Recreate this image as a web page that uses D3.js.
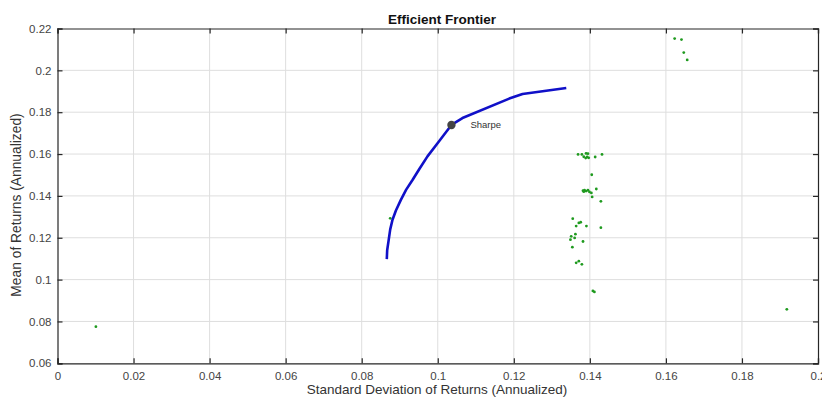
<!DOCTYPE html>
<html>
<head>
<meta charset="utf-8">
<script src="https://cdn.jsdelivr.net/npm/d3@7"></script>
<style>
  body { margin: 0; background: #fff; }
  svg { display: block; font-family: "Liberation Sans", Arial, sans-serif; }
</style>
</head>
<body>
<div class="chart"></div>
<script>
// frontier (risk, return)
const frontierRisk = [0.0866, 0.0867, 0.0871, 0.0875, 0.0881, 0.0890, 0.0903, 0.0917, 0.0934, 0.0952, 0.0973, 0.1003, 0.1036, 0.1065, 0.1188, 0.1223, 0.1338];
const frontierRet = [0.1098, 0.1140, 0.1190, 0.1240, 0.1286, 0.1330, 0.1381, 0.1430, 0.1477, 0.1530, 0.1589, 0.1660, 0.1739, 0.1772, 0.1865, 0.1887, 0.1916];

const sharpeRisk = 0.1036;
const sharpeRet = 0.1739;

// asset scatter
const assetRisk = [
  0.1369, 0.1379, 0.1390, 0.1395, 0.1384, 0.1389, 0.1393, 0.1397, 0.1414, 0.1432, 0.1405,
  0.1382, 0.1386, 0.1390, 0.1395, 0.1399, 0.1404, 0.1417, 0.1406, 0.1429, 0.1384,
  0.1355, 0.1371, 0.1376, 0.1364, 0.1391, 0.1429, 0.1362, 0.1351, 0.1360, 0.1349, 0.1382, 0.1354,
  0.1364, 0.1371, 0.1379, 0.1408, 0.1412,
  0.1623, 0.1641, 0.1647, 0.1656, 0.1918, 0.0101, 0.0875
];
const assetRet = [
  0.1598, 0.1598, 0.1603, 0.1602, 0.1587, 0.1581, 0.1586, 0.1582, 0.1586, 0.1598, 0.1501,
  0.1425, 0.1427, 0.1423, 0.1427, 0.1419, 0.1414, 0.1433, 0.1395, 0.1374, 0.1420,
  0.1291, 0.1271, 0.1274, 0.1256, 0.1256, 0.1248, 0.1217, 0.1207, 0.1199, 0.1191, 0.1182, 0.1155,
  0.1080, 0.1088, 0.1073, 0.0946, 0.0941,
  0.2152, 0.2147, 0.2085, 0.2050, 0.0858, 0.0775, 0.1293
];

const xTicks = [0, 0.02, 0.04, 0.06, 0.08, 0.1, 0.12, 0.14, 0.16, 0.18, 0.2];
const yTicks = [0.06, 0.08, 0.1, 0.12, 0.14, 0.16, 0.18, 0.2, 0.22];

const W = 822, H = 398;
const m = { left: 57.5, right: 4, top: 28.5, bottom: 34.7 };

const svg = d3.select(".chart").append("svg")
  .attr("width", W).attr("height", H);

const x = d3.scaleLinear().domain([0, 0.2]).range([m.left, W - m.right]);
const y = d3.scaleLinear().domain([0.06, 0.22]).range([H - m.bottom, m.top]);

const fmt = d => String(+d.toFixed(2)).replace(/^0\.?$/, "0");

// grid
svg.append("g").selectAll("line").data(xTicks.slice(1, -1)).enter().append("line")
  .attr("x1", d => x(d)).attr("x2", d => x(d))
  .attr("y1", m.top).attr("y2", H - m.bottom)
  .attr("stroke", "#dedede").attr("stroke-width", 1);
svg.append("g").selectAll("line").data(yTicks.slice(1, -1)).enter().append("line")
  .attr("y1", d => y(d)).attr("y2", d => y(d))
  .attr("x1", m.left).attr("x2", W - m.right)
  .attr("stroke", "#dedede").attr("stroke-width", 1);

// axes with inward ticks (box on)
const tickLen = 5;
const axBottom = svg.append("g").attr("transform", `translate(0,${H - m.bottom})`)
  .call(d3.axisBottom(x).tickValues(xTicks).tickSize(-tickLen).tickPadding(9).tickFormat(fmt));
const axTop = svg.append("g").attr("transform", `translate(0,${m.top})`)
  .call(d3.axisTop(x).tickValues(xTicks).tickSize(-tickLen).tickFormat(""));
const axLeft = svg.append("g").attr("transform", `translate(${m.left},0)`)
  .call(d3.axisLeft(y).tickValues(yTicks).tickSize(-tickLen).tickPadding(6).tickFormat(fmt));
const axRight = svg.append("g").attr("transform", `translate(${W - m.right},0)`)
  .call(d3.axisRight(y).tickValues(yTicks).tickSize(-tickLen).tickFormat(""));

[axBottom, axTop, axLeft, axRight].forEach(g => {
  g.select(".domain").attr("stroke", "#262626").attr("stroke-width", 1.2);
  g.selectAll(".tick line").attr("stroke", "#262626").attr("stroke-width", 1.2);
  g.selectAll(".tick text").attr("fill", "#444").style("font-size", "11.5px")
    .style("font-family", "Liberation Sans, Arial, sans-serif");
});

// scatter
svg.append("g").selectAll("circle").data(assetRisk).enter().append("circle")
  .attr("cx", d => x(d))
  .attr("cy", (d, i) => y(assetRet[i]))
  .attr("r", 1.4)
  .attr("fill", "#1f9a1f");

// frontier
const line = d3.line().x(d => x(d[0])).y(d => y(d[1]));
svg.append("path")
  .datum(d3.zip(frontierRisk, frontierRet))
  .attr("d", line)
  .attr("fill", "none")
  .attr("stroke", "#1010c8")
  .attr("stroke-width", 2.6)
  .attr("stroke-linejoin", "round");

// sharpe point
svg.append("circle")
  .attr("cx", x(sharpeRisk)).attr("cy", y(sharpeRet))
  .attr("r", 4.2).attr("fill", "#444");
svg.append("text")
  .attr("x", x(sharpeRisk) + 19).attr("y", y(sharpeRet) + 3.5)
  .attr("fill", "#333").style("font-size", "9.5px")
  .text("Sharpe");

// titles
svg.append("text")
  .attr("x", 442).attr("y", 23.5)
  .attr("text-anchor", "middle")
  .style("font-size", "13.5px").style("font-weight", "bold")
  .attr("fill", "#111")
  .text("Efficient Frontier");

svg.append("text")
  .attr("x", 437).attr("y", 394)
  .attr("text-anchor", "middle")
  .style("font-size", "13.5px").attr("fill", "#333")
  .text("Standard Deviation of Returns (Annualized)");

svg.append("text")
  .attr("transform", `translate(21,205) rotate(-90)`)
  .attr("text-anchor", "middle")
  .style("font-size", "13.8px").attr("fill", "#333")
  .text("Mean of Returns (Annualized)");
</script>
</body>
</html>
